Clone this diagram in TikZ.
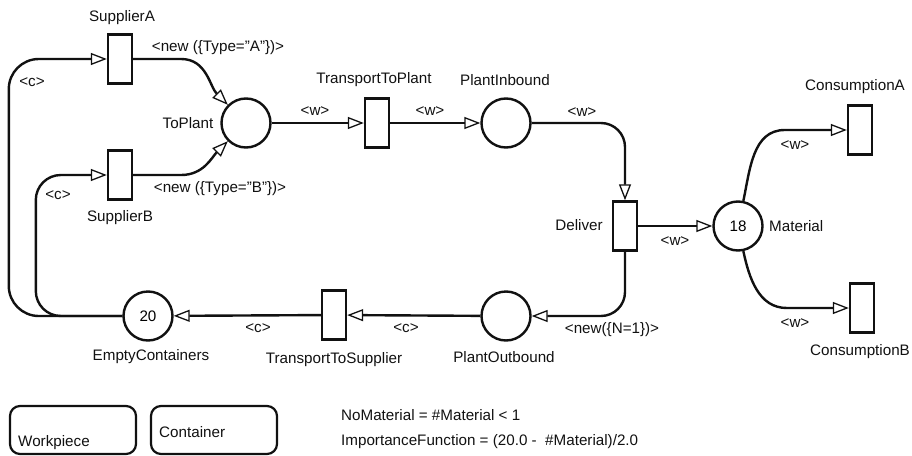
\documentclass[tikz,border=0pt]{standalone}
\usepackage{fontspec}
\setmainfont{Liberation Sans}
\usetikzlibrary{arrows.meta}
\definecolor{netblack}{RGB}{17,17,17}

\tikzset{
  place/.style={circle, draw=netblack, line width=2.4pt, minimum size=49pt, inner sep=0pt, font=\fontsize{15.2}{17}\selectfont},
  transition/.style={rectangle, draw=netblack, line width=2.4pt, minimum width=24pt, minimum height=49pt, inner sep=0pt},
  flow/.style={netblack, line width=2.4pt, -{Triangle[open, length=16pt, width=12pt, line width=1.3pt]}},
  lbl/.style={inner sep=0pt, text=netblack, font=\fontsize{15.2}{17}\selectfont},
  legendbox/.style={draw=netblack, line width=2.2pt, rounded corners=10pt, minimum width=126pt, minimum height=48pt}
}

\begin{document}
\begin{tikzpicture}[x=1pt, y=-1pt]
  \useasboundingbox (0,0) rectangle (912,455);
  % Places
  \node[place] (TP)  at (246,123) {};
  \node[place] (PI)  at (506,123) {};
  \node[place] (MAT) at (738,226) {18};
  \node[place] (PO)  at (506,316) {};
  \node[place] (EC)  at (148,316) {20};
  % Transitions
  \node[transition] (SA)  at (120,59)  {};
  \node[transition] (SB)  at (120,175) {};
  \node[transition] (TTP) at (377,123) {};
  \node[transition] (DL)  at (625,226) {};
  \node[transition] (CA)  at (860,130) {};
  \node[transition] (CB)  at (862,308) {};
  \node[transition] (TTS) at (334,315) {};
  % Names of places and transitions
  \node[lbl] (lSA)  at (122,18)  {SupplierA};
  \node[lbl] (lSB)  at (120,218) {SupplierB};
  \node[lbl] (lTP)  at (188,123) {ToPlant};
  \node[lbl] (lTTP) at (374,80)  {TransportToPlant};
  \node[lbl] (lPI)  at (505,80)  {PlantInbound};
  \node[lbl] (lDL)  at (579,225) {Deliver};
  \node[lbl, anchor=west] (lMAT) at (769,226) {Material};
  \node[lbl] (lCA)  at (855,87)  {ConsumptionA};
  \node[lbl] (lCB)  at (860,352) {ConsumptionB};
  \node[lbl] (lEC)  at (151,357) {EmptyContainers};
  \node[lbl] (lTTS) at (334,360) {TransportToSupplier};
  \node[lbl] (lPO)  at (504,357) {PlantOutbound};
  % Arcs
  \draw[flow] (SA.east) -- ++(48,0) to[out=0,in=135] (TP.135);
  \draw[flow] (SB.east) -- ++(48,0) to[out=0,in=225] (TP.225);
  \draw[flow] (TP) -- (TTP);
  \draw[flow] (TTP) -- (PI);
  \draw[flow, rounded corners=24pt] (PI.east) -| (DL.north);
  \draw[flow] (DL) -- (MAT);
  \draw[flow, rounded corners=24pt] (DL.south) |- (PO.east);
  \draw[flow] (PO) -- (TTS);
  \draw[flow] (TTS) -- (EC);
  \draw[flow, rounded corners=30pt] (EC.west) -| ([xshift=-98pt]SA.west) -- (SA.west);
  \draw[flow, rounded corners=25pt] (EC.west) -| ([xshift=-71pt]SB.west) -- (SB.west);
  \draw[flow] (MAT.78) to[out=78,in=180] ([xshift=-62pt]CA.west) -- (CA.west);
  \draw[flow] (MAT.-78) to[out=-78,in=180] ([xshift=-62pt]CB.west) -- (CB.west);
  % Arc inscriptions
  \node[lbl] (iSA)  at (218,48)  {<new (\{Type="A"\})>};
  \node[lbl] (iSB)  at (220,189) {<new (\{Type="B"\})>};
  \node[lbl] (iCA)  at (32,82)   {<c>};
  \node[lbl] (iCB)  at (58,195)  {<c>};
  \node[lbl] (iTP)  at (315,111) {<w>};
  \node[lbl] (iTTP) at (430,111) {<w>};
  \node[lbl] (iPI)  at (582,112) {<w>};
  \node[lbl] (iDL)  at (675,241) {<w>};
  \node[lbl] (iMA)  at (795,145) {<w>};
  \node[lbl] (iMB)  at (795,323) {<w>};
  \node[lbl] (iPO)  at (612,330) {<new(\{N=1\})>};
  \node[lbl] (iTTS) at (406,328) {<c>};
  \node[lbl] (iEC)  at (258,328) {<c>};
  % Colour sets
  \node[legendbox] (WP) at (73,430)  {};
  \node[legendbox] (CT) at (214,430) {};
  \node[lbl, anchor=west] (lWP) at (18,443)  {Workpiece};
  \node[lbl, anchor=west] (lCT) at (159,432) {Container};
  % Functions
  \node[lbl, anchor=west] (fNM) at (341,415) {NoMaterial = \#Material < 1};
  \node[lbl, anchor=west] (fIF) at (341,442) {ImportanceFunction = (20.0 -\ \ \#Material)/2.0};
\end{tikzpicture}
\end{document}
